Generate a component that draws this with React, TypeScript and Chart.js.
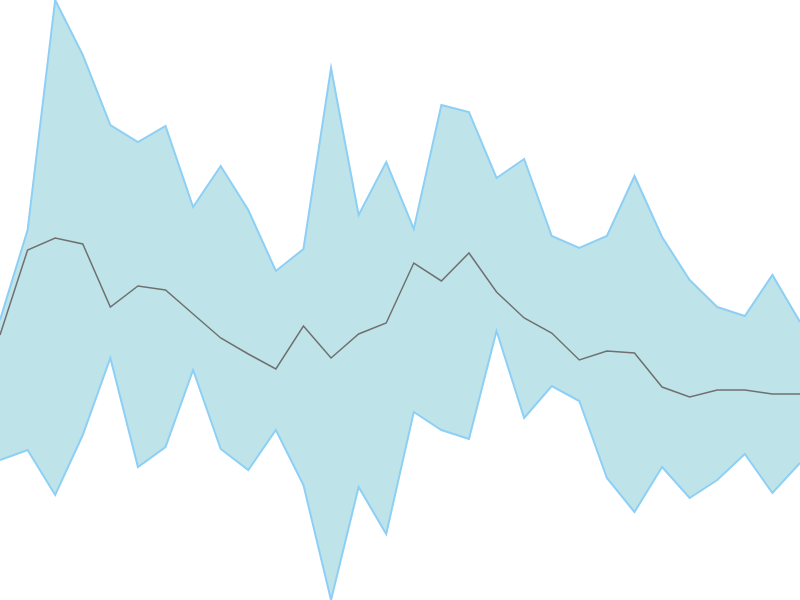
import React, { useRef, useEffect } from 'react';
import Chart from 'chart.js/auto';

// x: 30 steps, values read as height above the bottom edge (0..600)
const labels = Array.from({ length: 30 }, (_, i) => String(i + 1));

const upperBand = [280, 370, 600, 545, 475, 458, 474, 393, 434, 390, 329, 351, 532, 385, 438, 371, 495, 488, 422, 441, 364, 352, 364, 424, 363, 320, 293, 284, 325, 278];
const middleLine = [265, 350, 362, 356, 293, 314, 310, 286, 262, 246, 231, 274, 242, 266, 277, 337, 319, 347, 308, 282, 267, 240, 249, 247, 213, 203, 210, 210, 206, 206];
const lowerBand = [140, 150, 105, 165, 242, 133, 153, 230, 151, 130, 170, 115, 0, 113, 66, 188, 170, 161, 269, 182, 214, 199, 122, 88, 133, 102, 120, 146, 107, 137];

const App: React.FC = () => {
  const canvasRef = useRef<HTMLCanvasElement>(null);

  useEffect(() => {
    if (!canvasRef.current) return;
    const chart = new Chart(canvasRef.current, {
      type: 'line',
      data: {
        labels,
        datasets: [
          // middle line first so it is drawn on top of the band
          {
            data: middleLine,
            borderColor: '#707070',
            borderWidth: 1.5,
            pointRadius: 0,
            fill: false,
            tension: 0,
          },
          {
            data: upperBand,
            borderColor: '#8DCFF5',
            borderWidth: 2,
            pointRadius: 0,
            fill: false,
            tension: 0,
          },
          {
            data: lowerBand,
            borderColor: '#8DCFF5',
            backgroundColor: '#BEE4E9',
            borderWidth: 2,
            pointRadius: 0,
            fill: '-1',
            tension: 0,
          },
        ],
      },
      options: {
        responsive: false,
        animation: false,
        layout: { padding: 0 },
        plugins: {
          legend: { display: false },
          tooltip: { enabled: false },
        },
        scales: {
          x: { display: false, offset: false },
          y: { display: false, min: 0, max: 600 },
        },
      },
    });
    return () => chart.destroy();
  }, []);

  return (
    <div style={{ position: 'fixed', top: 0, left: 0, width: 800, height: 600, background: '#fff' }}>
      <canvas ref={canvasRef} width={800} height={600} />
    </div>
  );
};

export default App;
